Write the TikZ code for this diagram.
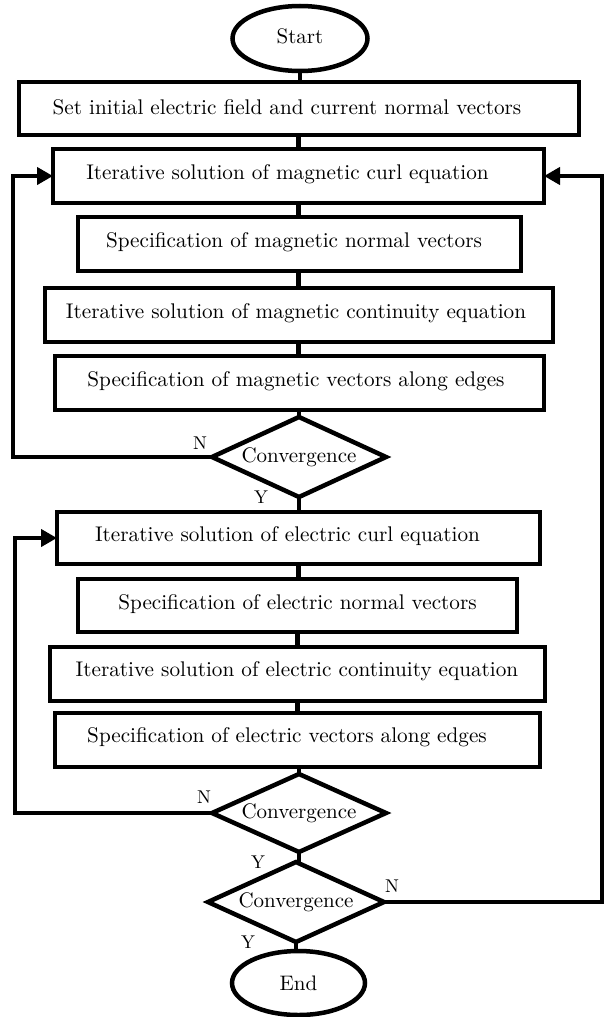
\documentclass[tikz,border=0pt]{standalone}
\usepackage{fontspec}
\setmainfont{lmroman10-regular}[Extension=.otf]
\usetikzlibrary{shapes.geometric,arrows.meta}
\begin{document}
\begin{tikzpicture}[x=1pt,y=-1pt,
  every node/.style={outer sep=0pt},
  boxnode/.style={draw, line width=4.5pt, inner sep=0pt},
  txt/.style={font=\fontsize{21.2}{25}\selectfont, inner sep=0pt},
  lbl/.style={font=\fontsize{18.5}{22}\selectfont, inner sep=0pt},
  term/.style={draw, ellipse, line width=4.5pt, inner sep=0pt, font=\fontsize{21}{25}\selectfont},
  dec/.style={draw, diamond, line width=4.5pt, inner sep=0pt, aspect=2.2, font=\fontsize{21}{25}\selectfont},
  conn/.style={line width=4.5pt},
  arr/.style={line width=4pt, -{Triangle[length=16pt,width=17pt]}}]
\useasboundingbox (0,0) rectangle (603,1017);

% terminals
\node[term, minimum width=135pt, minimum height=65pt, text depth=4pt] (st) at (300,38.5) {Start};
\node[term, minimum width=133pt, minimum height=64pt] (en) at (298.5,983) {End};

% boxes
\node[boxnode, minimum width=560pt, minimum height=53pt] (b1) at (299,108.5) {};
\node[boxnode, minimum width=491pt, minimum height=54pt] (b2) at (298.5,176) {};
\node[boxnode, minimum width=443pt, minimum height=54pt] (b3) at (299.5,244) {};
\node[boxnode, minimum width=508pt, minimum height=54pt] (b4) at (299,315) {};
\node[boxnode, minimum width=489pt, minimum height=54pt] (b5) at (299.5,383) {};
\node[boxnode, minimum width=483pt, minimum height=52pt] (b6) at (298.5,538) {};
\node[boxnode, minimum width=439pt, minimum height=53pt] (b7) at (297.5,605.5) {};
\node[boxnode, minimum width=495pt, minimum height=54pt] (b8) at (297.5,674) {};
\node[boxnode, minimum width=485pt, minimum height=54pt] (b9) at (297.5,740) {};

% box texts
\node[txt] (t1) at (287,107) {Set initial electric field and current normal vectors};
\node[txt] (t2) at (287.5,174) {Iterative solution of magnetic curl equation};
\node[txt] (t3) at (294,242) {Specification of magnetic normal vectors};
\node[txt] (t4) at (296,313) {Iterative solution of magnetic continuity equation};
\node[txt] (t5) at (296,381) {Specification of magnetic vectors along edges};
\node[txt] (t6) at (287.5,536) {Iterative solution of electric curl equation};
\node[txt] (t7) at (297.5,604) {Specification of electric normal vectors};
\node[txt] (t8) at (297,671) {Iterative solution of electric continuity equation};
\node[txt] (t9) at (287,737) {Specification of electric vectors along edges};

% decisions
\node[dec, minimum width=174pt, minimum height=80pt] (d1) at (299,457) {Convergence};
\node[dec, minimum width=174pt, minimum height=78pt] (d2) at (299,813) {Convergence};
\node[dec, minimum width=176pt, minimum height=80pt] (d3) at (296,902) {Convergence};

% labels
\node[lbl] (n1) at (200,443) {N};
\node[lbl] (y1) at (261,497) {Y};
\node[lbl] (n2) at (204,797) {N};
\node[lbl] (y2) at (258,862) {Y};
\node[lbl] (n3) at (392,886) {N};
\node[lbl] (y3) at (248,942) {Y};

% loop corners
\coordinate (L1) at (13,457);
\coordinate (L2) at (15,813);
\coordinate (R1) at (602,902);

% straight connectors
\draw[conn] (st.south) -- (st.south |- b1.north);
\draw[conn] (b1.south -| b2.north) -- (b2.north);
\draw[conn] (b2.south) -- (b2.south |- b3.north);
\draw[conn] (b3.south -| b2.south) -- (b2.south |- b4.north);
\draw[conn] (b4.south -| b2.south) -- (b2.south |- b5.north);
\draw[conn] (b5.south -| d1.north) -- (d1.north);
\draw[conn] (d1.south) -- (d1.south |- b6.north);
\draw[conn] (b6.south) -- (b6.south |- b7.north);
\draw[conn] (b7.south) -- (b7.south |- b8.north);
\draw[conn] (b8.south) -- (b8.south |- b9.north);
\draw[conn] (b9.south -| d2.north) -- (d2.north);
\draw[conn] (d2.south) -- (d3.north -| d2.south);
\draw[conn] (d3.south) -- (d3.south |- en.north);

% loops
\draw[arr] (d1.west) -- (L1) |- (b2.west);
\draw[arr] (d2.west) -- (L2) |- (b6.west);
\draw[arr] (d3.east) -- (R1) |- (b2.east);
\end{tikzpicture}
\end{document}
